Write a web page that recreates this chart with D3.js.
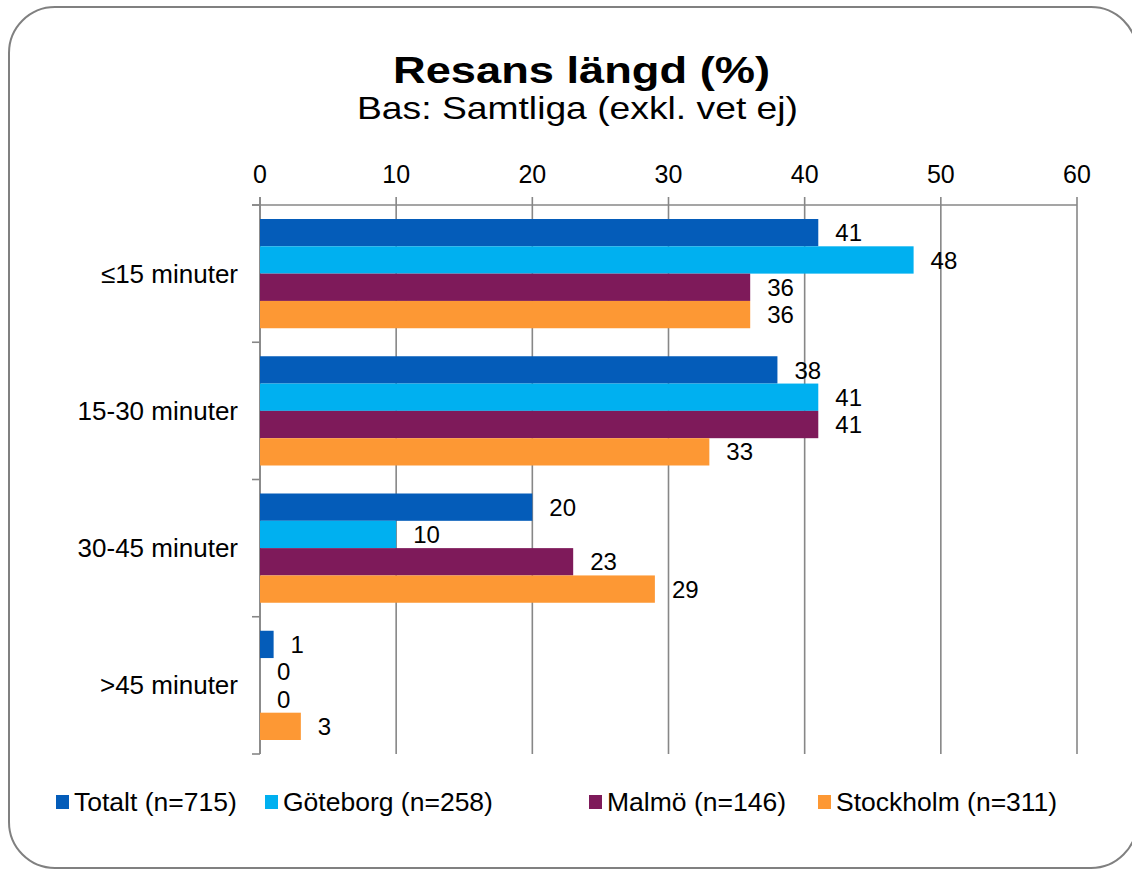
<!DOCTYPE html>
<html>
<head>
<meta charset="utf-8">
<script src="https://cdn.jsdelivr.net/npm/d3@7"></script>
<style>
  html, body { margin: 0; padding: 0; background: #fff; }
  svg { display: block; font-family: "Liberation Sans", Arial, sans-serif; }
</style>
</head>
<body>
<svg id="chart" width="1132" height="870"></svg>
<script>
const categories = ["≤15 minuter", "15-30 minuter", "30-45 minuter", ">45 minuter"];
const seriesNames = ["Totalt (n=715)", "Göteborg (n=258)", "Malmö (n=146)", "Stockholm (n=311)"];
const seriesColors = ["#045CB9", "#00B0F0", "#7E1A5A", "#FD9834"];
const totalt    = [41, 38, 20, 1];
const goteborg  = [48, 41, 10, 0];
const malmo     = [36, 41, 23, 0];
const stockholm = [36, 33, 29, 3];
const seriesValues = [totalt, goteborg, malmo, stockholm];
const xTicks = [0, 10, 20, 30, 40, 50, 60];
const titleText = "Resans längd (%)";
const subtitleText = "Bas: Samtliga (exkl. vet ej)";

(function () {
const svg = d3.select("#chart");
const gridColor = "#878787";

// outer rounded frame
svg.append("rect")
  .attr("x", 9).attr("y", 7).attr("width", 1128).attr("height", 861)
  .attr("rx", 46).attr("ry", 46)
  .attr("fill", "#fff").attr("stroke", "#808080").attr("stroke-width", 2);

// title
svg.append("text").attr("x", 581.5).attr("y", 83)
  .attr("text-anchor", "middle").attr("font-size", 37).attr("font-weight", "bold")
  .attr("textLength", 377).attr("lengthAdjust", "spacingAndGlyphs")
  .attr("fill", "#000").text(titleText);
svg.append("text").attr("x", 577.5).attr("y", 119)
  .attr("text-anchor", "middle").attr("font-size", 32)
  .attr("textLength", 441).attr("lengthAdjust", "spacingAndGlyphs")
  .attr("fill", "#000").text(subtitleText);

const pLeft = 260, pRight = 1077, pTop = 205, pBottom = 754;
const x = d3.scaleLinear().domain([0, 60]).range([pLeft, pRight]);
const y = d3.scaleBand().domain(categories).range([pTop, pBottom]).padding(0);
const bw = y.bandwidth();
const yi = d3.scaleBand().domain(d3.range(seriesNames.length)).range([14, bw - 14]).padding(0);

// gridlines (extend up as tick marks)
svg.append("g").selectAll("line").data(xTicks).join("line")
  .attr("x1", d => x(d)).attr("x2", d => x(d))
  .attr("y1", pTop - 8).attr("y2", pBottom)
  .attr("stroke", gridColor).attr("stroke-width", 1.6);

// top axis line
svg.append("line").attr("x1", pLeft - 8).attr("x2", pRight)
  .attr("y1", pTop).attr("y2", pTop)
  .attr("stroke", gridColor).attr("stroke-width", 1.6);

// x tick labels
svg.append("g").selectAll("text").data(xTicks).join("text")
  .attr("x", d => x(d)).attr("y", 183)
  .attr("text-anchor", "middle").attr("font-size", 25).attr("fill", "#000")
  .text(d => d);

// left axis
svg.append("line").attr("x1", pLeft).attr("x2", pLeft)
  .attr("y1", pTop - 8).attr("y2", pBottom)
  .attr("stroke", gridColor).attr("stroke-width", 1.6);
const catBounds = categories.map(c => y(c)).concat([pBottom]);
svg.append("g").selectAll("line").data(catBounds).join("line")
  .attr("x1", pLeft - 8).attr("x2", pLeft)
  .attr("y1", d => d).attr("y2", d => d)
  .attr("stroke", gridColor).attr("stroke-width", 1.6);

// category labels
svg.append("g").selectAll("text").data(categories).join("text")
  .attr("x", 238).attr("y", d => y(d) + bw / 2)
  .attr("dy", "0.35em").attr("text-anchor", "end")
  .attr("font-size", 26).attr("fill", "#000").text(d => d);

// bars
const barData = [];
categories.forEach((c, ci) => {
  seriesValues.forEach((vals, si) => {
    barData.push({ cat: c, si, v: vals[ci] });
  });
});
svg.append("g").selectAll("rect").data(barData).join("rect")
  .attr("x", x(0))
  .attr("y", d => y(d.cat) + yi(d.si))
  .attr("width", d => x(d.v) - x(0))
  .attr("height", yi.bandwidth())
  .attr("fill", d => seriesColors[d.si]);

// value labels
svg.append("g").selectAll("text").data(barData).join("text")
  .attr("x", d => x(d.v) + 17)
  .attr("y", d => y(d.cat) + yi(d.si) + yi.bandwidth() / 2)
  .attr("dy", "0.36em").attr("font-size", 24).attr("fill", "#000")
  .text(d => d.v);

// legend
const legendX = [56, 265, 589, 818];
const lg = svg.append("g").selectAll("g").data(seriesNames).join("g")
  .attr("transform", (d, i) => `translate(${legendX[i]},0)`);
lg.append("rect").attr("x", 0).attr("y", 795).attr("width", 13).attr("height", 14)
  .attr("fill", (d, i) => seriesColors[i]);
lg.append("text").attr("x", 18).attr("y", 811)
  .attr("font-size", 26.5).attr("fill", "#000").text(d => d);
})();
</script>
</body>
</html>
